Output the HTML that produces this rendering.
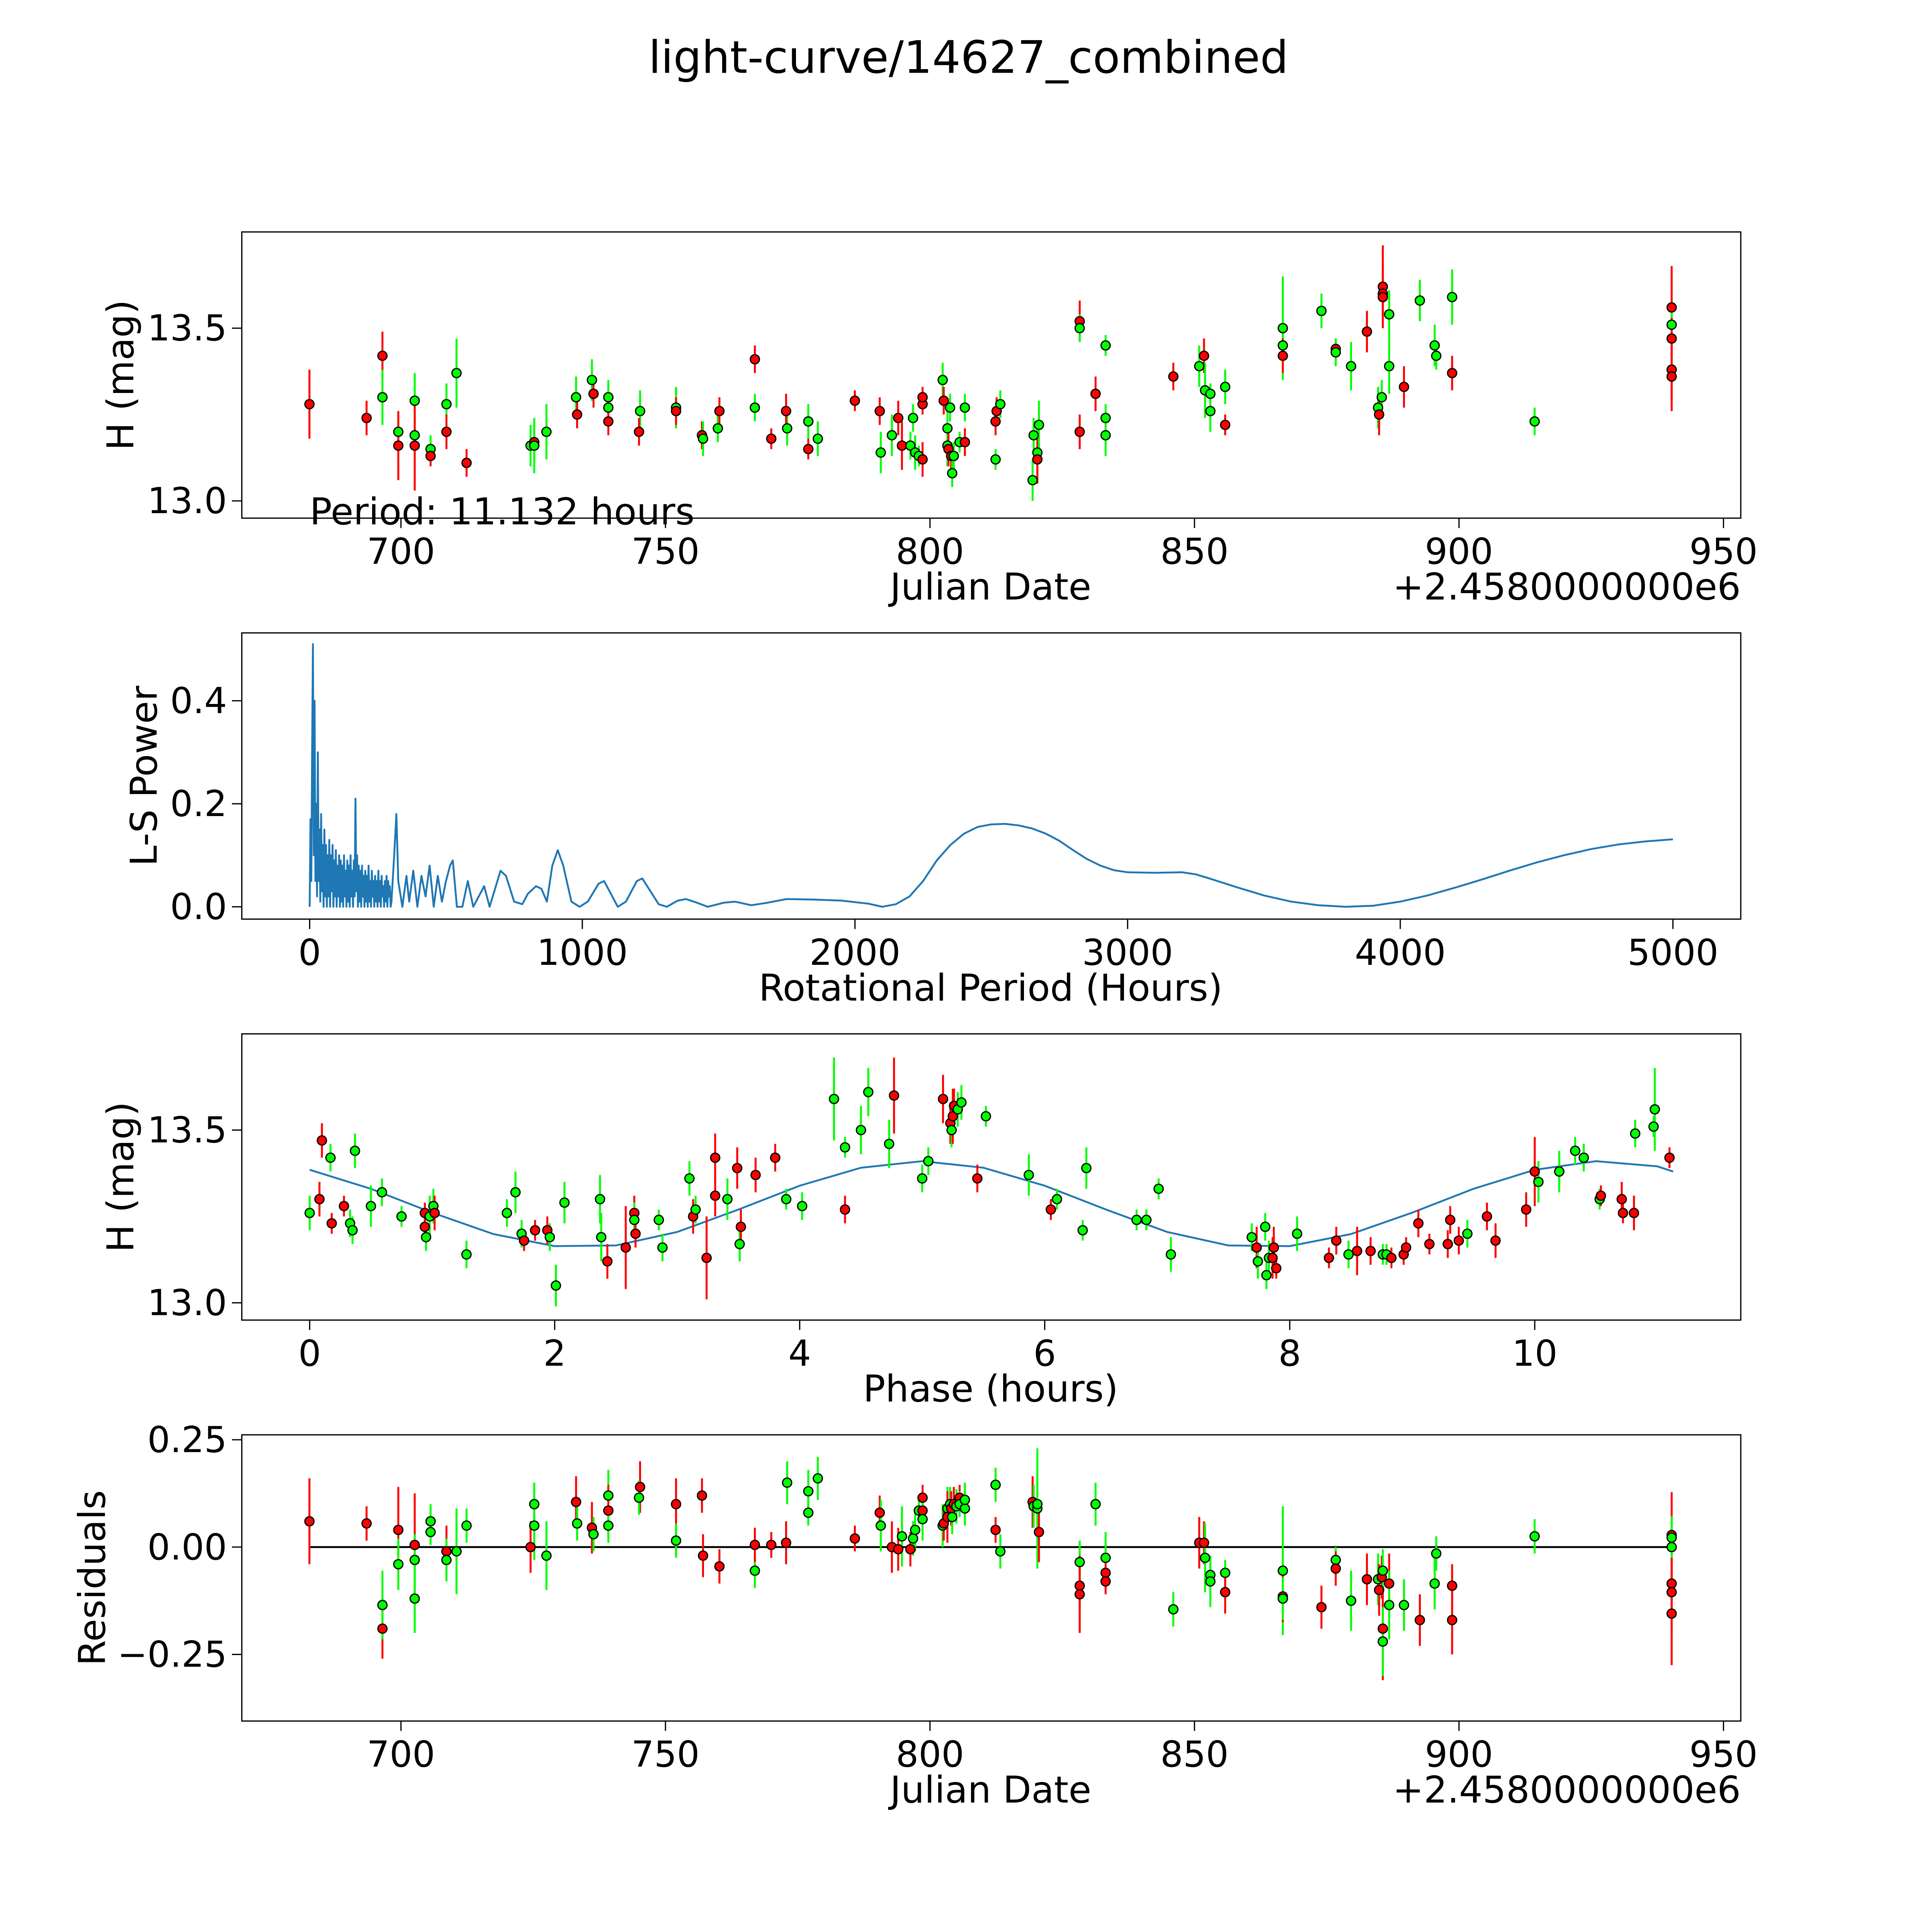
<!DOCTYPE html>
<html><head><meta charset="utf-8"><style>
html,body{margin:0;padding:0;background:#fff;overflow:hidden;width:100%;height:100%;}
svg{display:block;width:100vw;height:100vh;font-family:"DejaVu Sans","Liberation Sans",sans-serif;}
</style></head><body>
<svg id="fig" xmlns="http://www.w3.org/2000/svg" viewBox="0 0 1566 1566" preserveAspectRatio="none">
<rect x="0" y="0" width="1566" height="1566" fill="#fff"/>
<text x="785" y="59" text-anchor="middle" font-size="36.2">light-curve/14627_combined</text>
</svg>
<script>
// ---------- DATA ----------
const lcJD = [682.7,693.5,696.5,696.5,699.5,699.5,702.6,702.6,702.6,705.6,705.6,708.6,708.6,710.5,712.4,724.5,725.2,725.2,727.5,733.1,733.3,736.1,736.4,739.2,739.2,739.2,745.2,745.0,752.0,752.0,756.9,757.1,759.9,760.2,766.9,766.9,770.0,773.0,772.8,777.0,777.0,778.8,785.8,790.5,790.7,792.8,794.0,794.7,796.3,796.8,797.2,797.9,798.6,798.6,798.6,802.4,802.6,803.3,803.3,803.5,803.8,804.0,804.2,804.5,805.6,806.6,806.6,812.4,812.4,812.6,813.3,819.4,819.6,820.3,820.3,820.6,828.3,828.3,828.3,831.3,833.2,833.2,833.2,846.0,850.9,851.8,852.0,853.0,853.0,855.8,855.8,866.7,866.7,866.7,874.0,876.7,876.7,879.6,882.6,884.7,884.9,885.4,885.6,885.6,885.6,886.8,886.8,889.6,892.6,895.4,895.7,898.7,898.7,914.3,940.2,940.2,940.2,940.2,940.2];
const lcMag = [13.28,13.24,13.42,13.30,13.20,13.16,13.29,13.19,13.16,13.15,13.13,13.28,13.20,13.37,13.11,13.16,13.17,13.16,13.20,13.30,13.25,13.35,13.31,13.30,13.27,13.23,13.26,13.20,13.27,13.26,13.19,13.18,13.21,13.26,13.27,13.41,13.18,13.21,13.26,13.23,13.15,13.18,13.29,13.26,13.14,13.19,13.24,13.16,13.16,13.24,13.14,13.13,13.28,13.30,13.12,13.35,13.29,13.21,13.16,13.15,13.27,13.13,13.08,13.13,13.17,13.17,13.27,13.23,13.12,13.26,13.28,13.06,13.19,13.14,13.12,13.22,13.52,13.50,13.20,13.31,13.24,13.19,13.45,13.36,13.39,13.42,13.32,13.31,13.26,13.33,13.22,13.50,13.45,13.42,13.55,13.44,13.43,13.39,13.49,13.27,13.25,13.30,13.62,13.60,13.59,13.54,13.39,13.33,13.58,13.45,13.42,13.59,13.37,13.23,13.56,13.51,13.47,13.38,13.36];
const lcErr = [.1,.05,.07,.08,.06,.10,.08,.06,.13,.04,.03,.06,.05,.1,.04,.06,.05,.08,.08,.06,.04,.06,.04,.05,.06,.04,.06,.04,.06,.04,.04,.05,.04,.04,.04,.04,.03,.05,.05,.05,.03,.05,.03,.04,.06,.06,.05,.07,.04,.04,.05,.03,.03,.03,.05,.05,.04,.05,.06,.05,.04,.04,.04,.04,.03,.04,.04,.04,.03,.04,.04,.06,.05,.07,.07,.07,.06,.04,.05,.05,.04,.06,.03,.04,.06,.05,.08,.03,.06,.05,.03,.15,.06,.05,.05,.03,.04,.07,.06,.06,.06,.05,.12,.08,.05,.07,.08,.06,.06,.06,.04,.08,.05,.04,.12,.05,.06,.08,.1];
const lcCol = "rrrggrggrgrgrgrgrggg rgrggrgrgrrggrgrrgrgrgrrggrrggggrrrgrggrgrgggrgrgrggggrgrgrrgggrgrggggrggrgrggrgrgrrrggrggggrgrgrrrrgg".replace(/ /g,"");
// periodogram
const lsPeriod = [0,3,6,9,12,15,18,21,24,27,30,33,36,39,42,45,48,51,54,57,60,63,66,69,72,75,78,81,84,87,90,93,96,99,102,105,108,111,114,117,120,123,126,129,132,135,138,141,144,147,150,153,156,159,162,165,168,171,174,177,180,183,186,189,192,195,198,201,204,207,210,213,216,219,222,225,228,231,234,237,240,243,246,249,252,255,258,261,264,267,270,273,276,279,282,285,288,291,294,297,300,
 310,318,325,340,355,365,380,395,410,425,440,455,470,485,500,515,525,540,
 560,580,600,640,660,700,720,750,780,800,830,850,870,890,910,930,960,990,1020,1060,1080,1100,1130,1160,1200,1220,1250,1280,1310,
 1350,1380,1420,1460,1520,1560,1620,1680,1750,1850,1950,2050,2100,
 2150,2200,2250,2300,2350,2400,2450,2500,2550,2600,2650,2700,2750,2800,2850,2900,2950,3000,3100,3200,3250,3300,3400,3500,3600,3700,3800,3900,4000,4100,4200,4300,4400,4500,4600,4700,4800,4900,5000];
const lsPower = [0,0.17,0.05,0.3,0.51,0.1,0.4,0.05,0.2,0.02,0.3,0.05,0.15,0.01,0.18,0.03,0.12,0.0,0.15,0.02,0.12,0.0,0.1,0.02,0.13,0.0,0.1,0.03,0.12,0.0,0.09,0.02,0.11,0.0,0.08,0.02,0.1,0.0,0.09,0.01,0.08,0.0,0.1,0.02,0.07,0.0,0.09,0.01,0.08,0.0,0.1,0.02,0.07,0.0,0.09,0.02,0.21,0.03,0.1,0.0,0.08,0.01,0.07,0.0,0.08,0.02,0.06,0.0,0.07,0.01,0.06,0.0,0.08,0.01,0.05,0.0,0.07,0.02,0.05,0.0,0.06,0.01,0.05,0.0,0.07,0.01,0.05,0.0,0.06,0.02,0.04,0.0,0.05,0.01,0.06,0.0,0.05,0.02,0.04,0.0,0.01,
 0.1,0.18,0.05,0.0,0.06,0.01,0.07,0.0,0.06,0.02,0.08,0.0,0.06,0.01,0.05,0.08,0.09,0.0,
 0.0,0.05,0.0,0.04,0.0,0.07,0.06,0.01,0.005,0.025,0.04,0.035,0.01,0.08,0.11,0.08,0.01,0.0,0.01,0.045,0.05,0.03,0.0,0.01,0.05,0.055,0.03,0.005,0.0,
 0.012,0.015,0.008,0.0,0.008,0.01,0.003,0.008,0.015,0.014,0.012,0.006,0.0,
 0.005,0.02,0.05,0.09,0.12,0.142,0.155,0.16,0.161,0.158,0.152,0.142,0.128,0.11,0.093,0.08,0.071,0.067,0.066,0.067,0.063,0.055,0.038,0.022,0.01,0.003,0.0,0.002,0.01,0.022,0.037,0.053,0.07,0.086,0.1,0.112,0.121,0.127,0.131];
// phased
const phPhase = [0.0,0.08,0.10,0.17,0.18,0.28,0.33,0.35,0.37,0.50,0.59,0.75,0.94,0.94,0.95,0.98,1.01,1.02,1.28,1.61,1.68,1.73,1.75,1.84,1.94,1.96,2.01,2.08,2.37,2.38,2.43,2.58,2.65,2.65,2.66,2.85,2.88,3.10,3.13,3.15,3.24,3.31,3.31,3.41,3.49,3.51,3.52,3.64,3.80,3.89,4.02,4.28,4.37,4.37,4.50,4.56,4.73,4.77,5.0,5.05,5.17,5.23,5.24,5.25,5.26,5.29,5.32,5.45,5.52,5.87,6.05,6.10,6.31,6.34,6.75,6.83,6.93,7.03,7.69,7.73,7.74,7.80,7.81,7.83,7.86,7.87,7.89,8.06,8.32,8.38,8.48,8.55,8.66,8.76,8.79,8.83,8.93,8.95,9.05,9.14,9.29,9.31,9.38,9.45,9.61,9.68,9.93,10.0,10.03,10.2,10.2,10.33,10.40,10.53,10.54,10.71,10.72,10.81,10.82,10.97,10.98,11.10];
const phMag = [13.26,13.30,13.47,13.42,13.23,13.28,13.23,13.21,13.44,13.28,13.32,13.25,13.26,13.22,13.19,13.25,13.28,13.26,13.14,13.26,13.32,13.20,13.18,13.21,13.21,13.19,13.05,13.29,13.30,13.19,13.12,13.16,13.26,13.24,13.20,13.24,13.16,13.36,13.25,13.27,13.13,13.42,13.31,13.30,13.39,13.17,13.22,13.37,13.42,13.30,13.28,13.59,13.27,13.45,13.50,13.61,13.46,13.60,13.36,13.41,13.59,13.52,13.50,13.54,13.57,13.56,13.58,13.36,13.54,13.37,13.27,13.30,13.21,13.39,13.24,13.24,13.33,13.14,13.19,13.16,13.12,13.22,13.08,13.13,13.13,13.16,13.10,13.20,13.13,13.18,13.14,13.15,13.15,13.14,13.14,13.13,13.14,13.16,13.23,13.17,13.17,13.24,13.18,13.20,13.25,13.18,13.27,13.38,13.35,13.38,13.38,13.44,13.42,13.30,13.31,13.30,13.26,13.26,13.49,13.51,13.56,13.42];
const phErr = [.05,.05,.05,.04,.03,.03,.04,.04,.05,.06,.04,.03,.03,.03,.04,.06,.05,.05,.04,.04,.06,.04,.03,.03,.04,.04,.06,.06,.07,.07,.05,.12,.05,.05,.04,.03,.04,.05,.05,.04,.12,.07,.06,.06,.06,.05,.05,.05,.04,.03,.04,.12,.04,.03,.07,.07,.07,.11,.04,.04,.07,.06,.05,.08,.05,.05,.05,.04,.03,.06,.03,.03,.03,.06,.03,.03,.03,.05,.04,.06,.05,.04,.04,.05,.06,.06,.03,.05,.03,.04,.04,.07,.04,.03,.03,.03,.03,.03,.04,.03,.04,.04,.04,.04,.04,.05,.05,.1,.06,.06,.04,.04,.04,.03,.03,.05,.03,.05,.04,.03,.12,.03];
const phCol = "grrgrrggggggrrgggrggggrrrgggggrrrgrgggrgrrrgrgrrrgggrggggrggrrgrrggrggrggggggggrggggrrrgrrgrrggrrrrrrrrgrrrrggggggrrrrgggrrrrg";
const modelPhase = [0,0.5,1,1.5,2,2.5,3,3.5,4,4.5,5,5.5,6,6.5,7,7.5,8,8.5,9,9.5,10,10.5,11,11.13];
const modelMag = [13.385,13.33,13.261,13.199,13.164,13.166,13.205,13.27,13.339,13.391,13.41,13.391,13.339,13.27,13.205,13.166,13.164,13.199,13.261,13.33,13.385,13.41,13.395,13.38];
// residuals
const resJD = [682.7,693.5,696.5,696.5,699.5,699.5,702.6,702.6,702.6,705.6,705.6,708.6,708.6,710.5,712.4,724.5,725.2,725.2,727.5,733.1,733.3,736.1,736.4,739.2,739.2,739.2,745.2,745.0,752.0,752.0,756.9,757.1,760.2,766.9,766.9,770.0,772.8,773.0,777.0,777.0,778.8,785.8,790.5,790.7,792.8,794.0,794.7,796.3,796.8,797.2,797.9,798.6,798.6,798.6,802.4,802.6,803.3,803.3,803.8,804.0,804.2,804.5,805.0,805.6,805.6,806.6,806.6,812.4,812.4,813.3,819.4,819.6,820.3,820.3,820.6,828.3,828.3,828.3,831.3,833.2,833.2,833.2,846.0,850.9,851.8,852.0,853.0,853.0,855.8,855.8,866.7,866.7,866.7,874.0,876.7,876.7,879.6,882.6,884.7,884.9,885.4,885.6,885.6,885.6,886.8,886.8,889.6,892.6,895.4,895.7,898.7,898.7,914.3,940.2,940.2,940.2,940.2,940.2,940.2];
const resVal = [.06,.055,-.19,-.135,.04,-.04,.005,-.03,-.12,.06,.035,-.01,-.03,-.01,.05,0,.1,.05,-.02,.105,.055,.045,.03,.12,.085,.05,.14,.115,.10,.015,.12,-.02,-.045,-.055,.005,.005,.01,.15,.08,.13,.16,.02,.08,.05,0,-.005,.025,-.005,.02,.04,.085,.115,.085,.065,.05,.055,.09,.07,.1,.09,.07,.1,.095,.115,.1,.09,.11,.145,.04,-.01,.105,.095,.09,.1,.035,-.035,-.09,-.11,.1,-.025,-.06,-.08,-.145,.01,.01,-.025,-.065,-.08,-.06,-.105,-.055,-.115,-.12,-.14,-.03,-.05,-.125,-.075,-.075,-.1,-.07,-.19,-.22,-.055,-.085,-.135,-.135,-.17,-.085,-.015,-.09,-.17,.025,.028,.022,0,-.085,-.105,-.155];
const resErr = [.1,.04,.07,.08,.1,.06,.12,.06,.08,.04,.03,.06,.05,.1,.04,.06,.05,.08,.08,.06,.04,.06,.04,.06,.06,.04,.06,.04,.06,.04,.04,.05,.04,.04,.04,.03,.05,.05,.03,.05,.05,.03,.04,.06,.06,.05,.07,.04,.04,.05,.03,.03,.03,.05,.05,.04,.05,.06,.04,.04,.04,.04,.04,.03,.03,.04,.04,.04,.03,.04,.06,.05,.14,.07,.07,.05,.06,.09,.05,.06,.04,.03,.04,.06,.05,.08,.03,.06,.03,.05,.15,.06,.05,.05,.03,.04,.07,.06,.06,.06,.05,.12,.08,.05,.07,.08,.06,.06,.06,.04,.05,.08,.04,.1,.05,.06,.06,.08,.12];
const resCol = "rrrgrgrggggrgggrgggrgrggrgrgrgrrrgrrrggggrrgrrgrgggrrggrgrgrgrgrggggrgrgggrgrrggrrgrrggggrgrgrgrgrgrrrggrggrggrrgrggrrrrr";
const jdTicks = [700,750,800,850,900,950];
const lcYTicks = [13.0,13.5];
const lsXTicks = [0,1000,2000,3000,4000,5000];
const lsYTicks = [0.0,0.2,0.4];
const phXTicks = [0,2,4,6,8,10];
const resYTicks = [-0.25,0,0.25];

// ---------- DRAWING ----------
const NS = "http://www.w3.org/2000/svg";
const svg = document.getElementById('fig');
const TICK_FS = 29, LABEL_FS = 30;
function mk(tag, attrs, parent){
  const e = document.createElementNS(NS, tag);
  for (const k in attrs) e.setAttribute(k, attrs[k]);
  (parent||svg).appendChild(e);
  return e;
}
function lin(d0,d1,p0,p1){ return v => p0 + (v-d0)*(p1-p0)/(d1-d0); }
const COL = {r:'#ff0000', g:'#00ff00'};
function frame(name){
  const g = mk('g',{});
  
  
  return g;
}
function axesBox(g,L,T,R,B){
  const r = mk('rect',{x:L,y:T,width:R-L,height:B-T,fill:'none',stroke:'#000','stroke-width':1},g);
  
  
}
function xTicks(g, ticks, sx, B, fmt){
  ticks.forEach(t=>{
    const x = sx(t);
    const l = mk('line',{x1:x,y1:B,x2:x,y2:B+8,stroke:'#000','stroke-width':1},g);
    
    
    const tx = mk('text',{x:x,y:B+37,'text-anchor':'middle','font-size':TICK_FS},g);
    
    
    tx.textContent = fmt(t);
  });
}
function yTicks(g, ticks, sy, L, fmt){
  ticks.forEach(t=>{
    const y = sy(t);
    const l = mk('line',{x1:L-8,y1:y,x2:L,y2:y,stroke:'#000','stroke-width':1},g);
    
    
    const tx = mk('text',{x:L-12,y:y+10,'text-anchor':'end','font-size':TICK_FS},g);
    
    
    tx.textContent = fmt(t);
  });
}
function label(g, txt, x, y, rot, name, anchor){
  const t = mk('text',{x:x,y:y,'text-anchor':anchor||'middle','font-size':LABEL_FS},g);
  if (rot) t.setAttribute('transform','rotate(-90 '+x+' '+y+')');
  
  
  t.textContent = txt;
}
function points(g, xs, ys, es, cols, sx, sy, name){
  const bars = mk('g',{},g);
  const dots = mk('g',{},g);
  for (let i=0;i<xs.length;i++){
    const c = COL[cols[i]] || COL.g;
    const x = sx(xs[i]);
    const b = mk('line',{x1:x,y1:sy(ys[i]-es[i]),x2:x,y2:sy(ys[i]+es[i]),stroke:c,'stroke-width':1.6},bars);
    
    
    const p = mk('circle',{cx:x,cy:sy(ys[i]),r:3.7,fill:c,stroke:'#000','stroke-width':1},dots);
    
    
  }
}
const fmt1 = v=>v.toFixed(1);
const fmtI = v=>String(v);
const minus = s=>s.replace('-','\u2212');

{
  const L=196,T=188,R=1411,B=420;
  const g = frame('light-curve-panel');
  const sx = lin(700,950,325,1397), sy = lin(13.0,13.5,406,266);
  axesBox(g,L,T,R,B);
  points(g, lcJD, lcMag, lcErr, lcCol, sx, sy, 'light-curve');
  xTicks(g, jdTicks, sx, B, fmtI);
  yTicks(g, lcYTicks, sy, L, fmt1);
  label(g,'Julian Date',803,486,false,'x-axis-title');
  label(g,'+2.4580000000e6',1411,486,false,'x-offset-label','end');
  label(g,'H (mag)',108,304,true,'y-axis-title');
  const pt = mk('text',{x:251,y:425,'font-size':LABEL_FS},g);
  
  
  pt.textContent = 'Period: 11.132 hours';
}
{
  const L=196,T=513,R=1411,B=745;
  const g = frame('periodogram-panel');
  const sx = lin(0,5000,251,1356), sy = lin(0,0.4,735,568);
  axesBox(g,L,T,R,B);
  let d='';
  for (let i=0;i<lsPeriod.length;i++) d += (i?'L':'M')+sx(lsPeriod[i]).toFixed(2)+' '+sy(lsPower[i]).toFixed(2);
  const p = mk('path',{d:d,fill:'none',stroke:'#1f77b4','stroke-width':1.5,'stroke-linejoin':'round'},g);
  
  
  xTicks(g, lsXTicks, sx, B, fmtI);
  yTicks(g, lsYTicks, sy, L, fmt1);
  label(g,'Rotational Period (Hours)',803,811,false,'x-axis-title');
  label(g,'L-S Power',127,629,true,'y-axis-title');
}
{
  const L=196,T=838,R=1411,B=1070;
  const g = frame('phased-curve-panel');
  const sx = lin(0,10,251,1244), sy = lin(13.0,13.5,1056,916);
  axesBox(g,L,T,R,B);
  let d='';
  for (let i=0;i<modelPhase.length;i++) d += (i?'L':'M')+sx(modelPhase[i]).toFixed(2)+' '+sy(modelMag[i]).toFixed(2);
  const m = mk('path',{d:d,fill:'none',stroke:'#1f77b4','stroke-width':1.5},g);
  
  
  points(g, phPhase, phMag, phErr, phCol, sx, sy, 'phased');
  xTicks(g, phXTicks, sx, B, fmtI);
  yTicks(g, lcYTicks, sy, L, fmt1);
  label(g,'Phase (hours)',803,1136,false,'x-axis-title');
  label(g,'H (mag)',108,954,true,'y-axis-title');
}
{
  const L=196,T=1163,R=1411,B=1395;
  const g = frame('residuals-panel');
  const sx = lin(700,950,325,1397), sy = lin(0,0.25,1254,1167);
  axesBox(g,L,T,R,B);
  const z = mk('line',{x1:sx(resJD[0]),y1:sy(0),x2:sx(resJD[resJD.length-1]),y2:sy(0),stroke:'#000','stroke-width':1.5},g);
  
  
  points(g, resJD, resVal, resErr, resCol, sx, sy, 'residual');
  xTicks(g, jdTicks, sx, B, fmtI);
  yTicks(g, resYTicks, sy, L, v=>minus(v.toFixed(2)));
  label(g,'Julian Date',803,1461,false,'x-axis-title');
  label(g,'+2.4580000000e6',1411,1461,false,'x-offset-label','end');
  label(g,'Residuals',85,1279,true,'y-axis-title');
}
</script>
</body></html>
